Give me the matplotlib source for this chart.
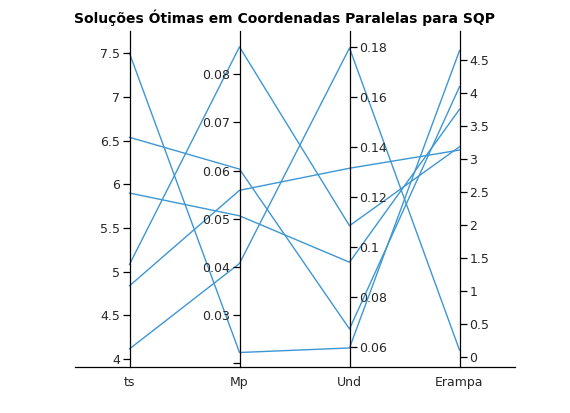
import matplotlib
matplotlib.use("Agg")
import matplotlib.pyplot as plt
import numpy as np

# Data (each row = one optimal solution)
dims = ["ts", "Mp", "Und", "Erampa"]
ts = [7.5, 6.538, 5.9, 5.083, 4.838, 4.116]
Mp = [0.0222, 0.0603, 0.0506, 0.0857, 0.0559, 0.0407]
Und = [0.0595, 0.0671, 0.0938, 0.1084, 0.1314, 0.1795]
Erampa = [4.641, 4.095, 3.752, 3.184, 3.134, 0.10]

ranges = [(3.912, 7.755), (0.01925, 0.089), (0.052, 0.1863), (-0.152, 4.94)]
ticks = [
    [4, 4.5, 5, 5.5, 6, 6.5, 7, 7.5],
    [0.02, 0.03, 0.04, 0.05, 0.06, 0.07, 0.08],
    [0.06, 0.08, 0.10, 0.12, 0.14, 0.16, 0.18],
    [0, 0.5, 1, 1.5, 2, 2.5, 3, 3.5, 4, 4.5],
]
ticklabels = [
    ["4", "4.5", "5", "5.5", "6", "6.5", "7", "7.5"],
    ["", "0.03", "0.04", "0.05", "0.06", "0.07", "0.08"],
    ["0.06", "0.08", "0.1", "0.12", "0.14", "0.16", "0.18"],
    ["0", "0.5", "1", "1.5", "2", "2.5", "3", "3.5", "4", "4.5"],
]
sides = ["left", "left", "right", "right"]

line_color = "#3D97D3"
text_color = "#262626"

fig = plt.figure(figsize=(5.7, 4.13), dpi=100)
ax = fig.add_axes([74.5 / 570, (413 - 366.7) / 413, 440 / 570, 335.7 / 413])
ax.set_xlim(-0.5, 3.5)
ax.set_ylim(0, 1)
for s in ["top", "left", "right"]:
    ax.spines[s].set_visible(False)
ax.spines["bottom"].set_color("black")
ax.spines["bottom"].set_linewidth(0.9)
ax.set_yticks([])

data = np.array([ts, Mp, Und, Erampa]).T
norm = np.array([[(v - ranges[j][0]) / (ranges[j][1] - ranges[j][0])
                  for j, v in enumerate(row)] for row in data])
xs = np.arange(len(dims))
for row in norm:
    ax.plot(xs, row, color=line_color, lw=1.0, clip_on=False, zorder=2)

for i in range(len(dims)):
    tw = ax.twinx()
    tw.set_ylim(*ranges[i])
    side = sides[i]
    other = "right" if side == "left" else "left"
    for s in ["top", "bottom", other]:
        tw.spines[s].set_visible(False)
    tw.spines[side].set_position(("data", i))
    tw.spines[side].set_color("black")
    tw.spines[side].set_linewidth(0.9)
    tw.yaxis.set_ticks_position(side)
    tw.yaxis.set_label_position(side)
    tw.set_yticks(ticks[i])
    tw.set_yticklabels(ticklabels[i])
    tw.tick_params(axis="y", labelsize=9, labelcolor=text_color, color="black",
                   length=5, width=0.9, direction="out", pad=2)
    tw.patch.set_visible(False)

ax.set_xticks(xs)
ax.set_xticklabels(dims, fontsize=9, color=text_color)
ax.tick_params(axis="x", length=0, pad=7)

fig.text(0.5, 1 - 18 / 413, "Soluções Ótimas em Coordenadas Paralelas para SQP",
         ha="center", va="center", fontsize=10, fontweight="bold", color="black")

fig.savefig("out.png", dpi=100)
